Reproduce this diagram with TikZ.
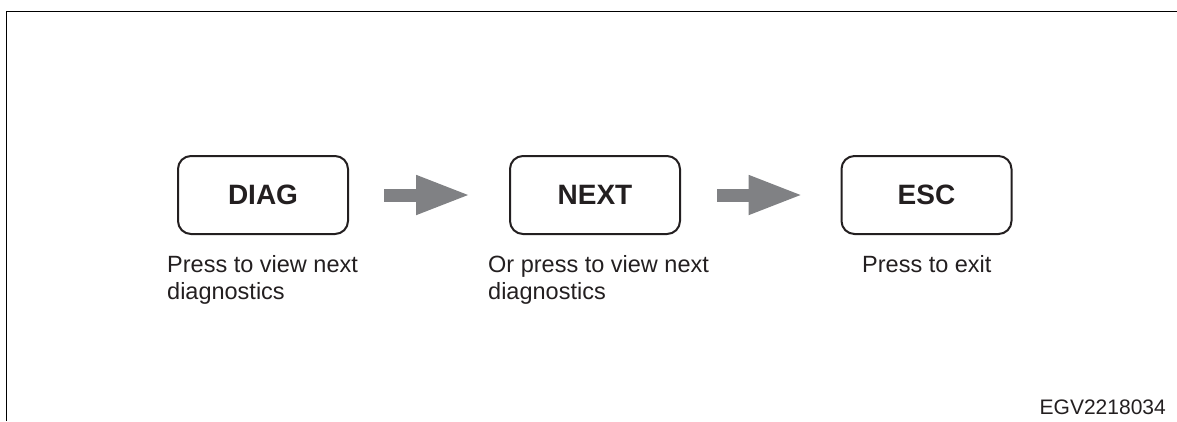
\documentclass[tikz,border=0pt]{standalone}
\usepackage{fontspec}
\setmainfont{Liberation Sans}
\usetikzlibrary{arrows.meta}
\definecolor{arrowgray}{RGB}{128,129,132}
\definecolor{inkblack}{RGB}{35,31,32}
\tikzset{
  keybox/.style={draw=inkblack, line width=2pt, rounded corners=13pt,
    minimum width=170pt, minimum height=78pt, inner sep=0pt,
    font=\fontsize{28}{30}\selectfont\bfseries, text=inkblack},
  flowarrow/.style={draw=arrowgray, line width=13pt,
    -{Triangle[length=55pt,width=36pt]}},
  caption/.style={anchor=base west, inner sep=0pt, align=left,
    font=\fontsize{23.5}{27}\selectfont, text=inkblack},
  frameline/.style={draw=black, line width=1.3pt}
}
\begin{document}
\begin{tikzpicture}[x=1pt,y=-1pt]
\useasboundingbox (0,0) rectangle (1177,421);
\draw[frameline] (6.5,421) -- (6.5,11.5) -- (1177,11.5);
\node[keybox] (diag) at (263,195) {DIAG};
\node[keybox] (next) at (595,195) {NEXT};
\node[keybox] (esc) at (926.5,195) {ESC};
\draw[flowarrow] ([xshift=35pt]diag.east) -- ([xshift=-38pt]next.west);
\draw[flowarrow] ([xshift=36pt]next.east) -- ([xshift=-37pt]esc.west);
\node[caption] (c1) at (167,299) {Press to view next\\diagnostics};
\node[caption] (c2) at (488,299) {Or press to view next\\diagnostics};
\node[caption] (c3) at (862,272) {Press to exit};
\node[anchor=base east, inner sep=0pt, font=\fontsize{21}{24}\selectfont, text=inkblack] (code) at (1166,414) {EGV2218034};
\end{tikzpicture}
\end{document}
